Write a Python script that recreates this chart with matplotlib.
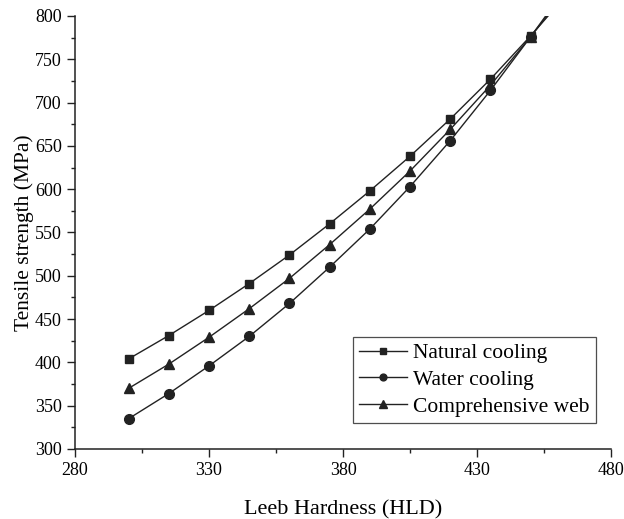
import matplotlib
matplotlib.use("Agg")
import matplotlib.pyplot as plt
from matplotlib.ticker import MultipleLocator, FixedLocator

plt.rcParams['font.family'] = ['Liberation Serif', 'DejaVu Serif']

hardness = [300, 315, 330, 345, 360, 375, 390, 405, 420, 435, 450, 465]
natural = [404, 431, 460, 491, 524, 560, 598, 638, 681, 727, 777, 830]
water = [335, 364, 396, 430, 468, 510, 554, 603, 656, 714, 776, 840]
comprehensive = [370, 398, 429, 462, 497, 536, 577, 621, 669, 720, 776, 835]
labels = ["Natural cooling", "Water cooling", "Comprehensive web"]
xticks = [280, 330, 380, 430, 480]
xminor = [305, 355, 405, 455]

fig = plt.figure(figsize=(6.24, 5.19), dpi=100)
ax = fig.add_axes([0.1202, 0.1349, 0.8590, 0.8343])

lc = '#222222'
ax.plot(hardness, natural, '-s', color=lc, lw=1.0, ms=6, label=labels[0])
ax.plot(hardness, water, '-o', color=lc, lw=1.0, ms=7, label=labels[1])
ax.plot(hardness, comprehensive, '-^', color=lc, lw=1.0, ms=7.5, label=labels[2])

ax.set_xlim(280, 480)
ax.set_ylim(300, 800)
ax.xaxis.set_major_locator(FixedLocator(xticks))
ax.xaxis.set_minor_locator(FixedLocator(xminor))
ax.yaxis.set_major_locator(MultipleLocator(50))
ax.yaxis.set_minor_locator(MultipleLocator(25))
ax.spines['top'].set_visible(False)
ax.spines['right'].set_visible(False)
for s in ['left', 'bottom']:
    ax.spines[s].set_linewidth(1.1)
    ax.spines[s].set_color(lc)
ax.tick_params(which='major', direction='out', length=5.5, width=1.0, labelsize=13, color=lc, pad=4)
ax.tick_params(which='minor', direction='out', length=3, width=1.0, color=lc)

ax.set_xlabel("Leeb Hardness (HLD)", fontsize=16, labelpad=15)
ax.set_ylabel("Tensile strength (MPa)", fontsize=15.5, labelpad=1)

leg = ax.legend(loc='lower right', bbox_to_anchor=(0.972, 0.06), fontsize=15.5,
                frameon=True, fancybox=False, edgecolor=lc, handlelength=2.2,
                handletextpad=0.3, borderpad=0.3, labelspacing=0.3, markerscale=0.7,
                borderaxespad=0.0)
leg.get_frame().set_linewidth(0.9)

fig.savefig("out.png", dpi=100)
